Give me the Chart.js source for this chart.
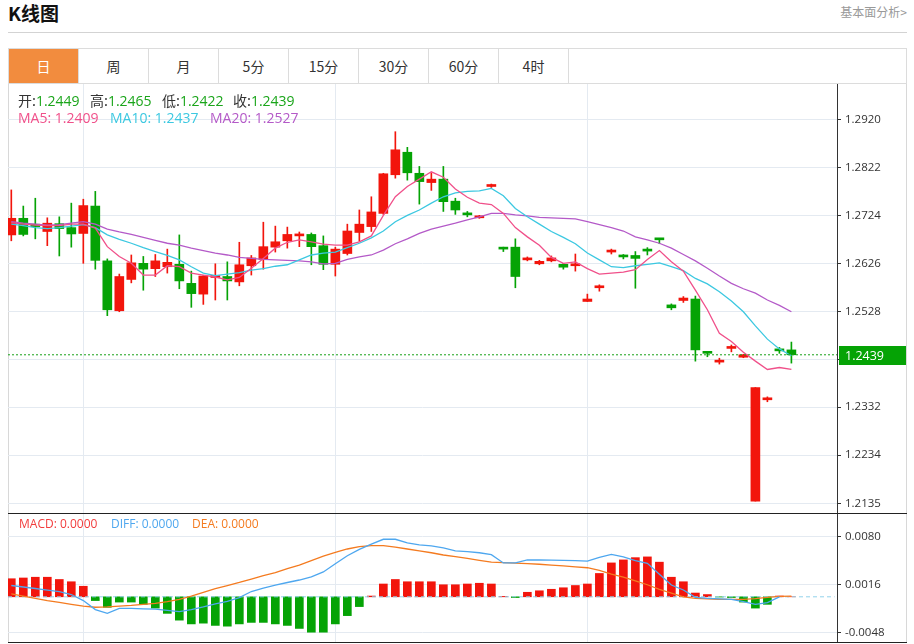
<!DOCTYPE html>
<html><head><meta charset="utf-8">
<script src="https://cdn.jsdelivr.net/npm/chart.js@4.4.0/dist/chart.umd.min.js"></script>
<style>
html,body{margin:0;padding:0;background:#fff;}
body{width:914px;height:644px;position:relative;overflow:hidden;font-family:"Open Sans","Noto Sans CJK SC",sans-serif;}
.abs{position:absolute;white-space:nowrap;}
#title{left:8px;top:0px;font-weight:bold;font-size:19px;font-family:"Noto Sans CJK SC";color:#111;line-height:26px;}
#link{right:7px;top:4px;font-size:12px;font-family:"Noto Sans CJK SC";color:#999;line-height:16px;}
#hr{left:8px;top:32px;width:899px;height:1px;background:#d3d3d3;}
#tabs{left:8px;top:48px;width:899px;height:36px;box-sizing:border-box;border:1px solid #dcdcdc;}
.tab{position:absolute;top:0;height:34px;width:70px;box-sizing:border-box;border-right:1px solid #dcdcdc;text-align:center;line-height:34px;font-size:14px;font-family:"Noto Sans CJK SC";color:#333;}
.tab.on{background:#f28c3e;color:#fff;}
#frame{left:8px;top:84px;width:899px;height:559px;box-sizing:border-box;border-left:1px solid #d8d8d8;border-right:1px solid #d8d8d8;}
canvas{position:absolute;}
.leg{font-size:14px;line-height:18px;}
.k{color:#333;font-family:"Noto Sans CJK SC","Open Sans";}
.g{color:#1aa51a;}
.mleg{font-size:12px;line-height:16px;}
.hline{position:absolute;left:8px;width:899px;height:1px;background:#222;}
</style>
</head><body>
<div id="title" class="abs">K线图</div>
<div id="link" class="abs">基本面分析&gt;</div>
<div id="hr" class="abs"></div>
<div id="tabs" class="abs">
  <div class="tab on" style="left:0">日</div>
  <div class="tab" style="left:70px">周</div>
  <div class="tab" style="left:140px">月</div>
  <div class="tab" style="left:210px">5分</div>
  <div class="tab" style="left:280px">15分</div>
  <div class="tab" style="left:350px">30分</div>
  <div class="tab" style="left:420px">60分</div>
  <div class="tab" style="left:490px">4时</div>
</div>
<div id="frame" class="abs"></div>
<canvas id="c1" width="899" height="429" style="left:8px;top:84px;"></canvas>
<canvas id="c2" width="899" height="130" style="left:8px;top:513px;"></canvas>
<div class="hline" style="top:513px;"></div>
<div class="hline" style="top:642px;"></div>

<div class="abs leg" style="left:18px;top:91px;"><span class="k">开:</span><span class="g" id="vO"></span></div>
<div class="abs leg" style="left:90px;top:91px;"><span class="k">高:</span><span class="g" id="vH"></span></div>
<div class="abs leg" style="left:162px;top:91px;"><span class="k">低:</span><span class="g" id="vL"></span></div>
<div class="abs leg" style="left:233px;top:91px;"><span class="k">收:</span><span class="g" id="vC"></span></div>
<div class="abs leg" style="left:18px;top:109px;color:#f0508a;" id="m5"></div>
<div class="abs leg" style="left:110px;top:109px;color:#3cc8e1;" id="m10"></div>
<div class="abs leg" style="left:210px;top:109px;color:#b45ac8;" id="m20"></div>
<div class="abs mleg" style="left:19px;top:516px;color:#f23c3c;">MACD: 0.0000</div>
<div class="abs mleg" style="left:111px;top:516px;color:#4ea7ef;">DIFF: 0.0000</div>
<div class="abs mleg" style="left:192px;top:516px;color:#f47b20;">DEA: 0.0000</div>

<script>
// ---- data (daily candles, oldest -> newest) ----
const opens  = [1.2684,1.2718,1.2706,1.2691,1.2707,1.2699,1.2687,1.2743,1.2631,1.2529,1.2593,1.2626,1.2615,1.2619,1.2624,1.2585,1.2563,1.2597,1.2599,1.2588,1.2621,1.2634,1.2659,1.2672,1.2682,1.2685,1.2662,1.2624,1.2646,1.2689,1.2701,1.2728,1.2807,1.2853,1.2810,1.2791,1.2798,1.2753,1.2729,1.2719,1.2783,1.2659,1.2659,1.2633,1.2625,1.2631,1.2624,1.2621,1.2548,1.2576,1.2649,1.2642,1.2642,1.2655,1.2677,1.2541,1.2550,1.2553,1.2445,1.2424,1.2452,1.2434,1.2140,1.2347,1.2449,1.2449];
const highs  = [1.2776,1.2743,1.2759,1.2719,1.2721,1.2749,1.2757,1.2773,1.2635,1.2604,1.2643,1.2640,1.2644,1.2655,1.2684,1.2610,1.2601,1.2625,1.2629,1.2669,1.2642,1.2710,1.2702,1.2700,1.2690,1.2688,1.2682,1.2659,1.2706,1.2735,1.2762,1.2810,1.2895,1.2863,1.2824,1.2811,1.2824,1.2759,1.2732,1.2724,1.2788,1.2659,1.2676,1.2639,1.2632,1.2641,1.2626,1.2645,1.2563,1.2582,1.2655,1.2644,1.2650,1.2658,1.2677,1.2543,1.2558,1.2559,1.2445,1.2432,1.2459,1.2440,1.2372,1.2353,1.2454,1.2465];
const lows   = [1.2672,1.2682,1.2676,1.2662,1.2641,1.2659,1.2626,1.2614,1.2519,1.2527,1.2586,1.2571,1.2599,1.2606,1.2574,1.2536,1.2542,1.2551,1.2551,1.2580,1.2602,1.2614,1.2649,1.2657,1.2660,1.2623,1.2613,1.2600,1.2643,1.2671,1.2691,1.2726,1.2800,1.2796,1.2747,1.2775,1.2732,1.2726,1.2721,1.2718,1.2781,1.2650,1.2576,1.2631,1.2623,1.2629,1.2614,1.2610,1.2548,1.2569,1.2645,1.2635,1.2575,1.2643,1.2666,1.2531,1.2546,1.2426,1.2435,1.2420,1.2445,1.2433,1.2140,1.2343,1.2442,1.2422];
const closes = [1.2718,1.2685,1.2701,1.2708,1.2697,1.2686,1.2744,1.2632,1.2531,1.2599,1.2627,1.2614,1.2631,1.2628,1.2590,1.2564,1.2600,1.2600,1.2590,1.2623,1.2637,1.2660,1.2670,1.2685,1.2685,1.2660,1.2624,1.2655,1.2692,1.2706,1.2731,1.2809,1.2858,1.2811,1.2793,1.2798,1.2752,1.2735,1.2725,1.2723,1.2786,1.2655,1.2599,1.2637,1.2630,1.2637,1.2618,1.2625,1.2553,1.2580,1.2651,1.2639,1.2636,1.2651,1.2674,1.2535,1.2555,1.2449,1.2442,1.2428,1.2456,1.2439,1.2372,1.2351,1.2447,1.2439];
const ma5  = [1.2709,1.2706,1.2704,1.2703,1.2703,1.2706,1.2706,1.2698,1.2660,1.2640,1.2626,1.2602,1.2602,1.2621,1.2619,1.2606,1.2602,1.2598,1.2592,1.2597,1.2616,1.2636,1.2657,1.2669,1.2674,1.2670,1.2665,1.2663,1.2663,1.2670,1.2682,1.2724,1.2762,1.2783,1.2798,1.2813,1.2802,1.2778,1.2761,1.2749,1.2746,1.2728,1.2699,1.2680,1.2663,1.2638,1.2626,1.2629,1.2615,1.2604,1.2606,1.2608,1.2613,1.2634,1.2652,1.2629,1.2610,1.2571,1.2531,1.2483,1.2466,1.2444,1.2426,1.2409,1.2413,1.2409];
const ma10 = [1.2706,1.2703,1.2699,1.2697,1.2699,1.2702,1.2705,1.2699,1.2684,1.2675,1.2667,1.2658,1.2650,1.2642,1.2633,1.2619,1.2606,1.2601,1.2604,1.2607,1.2612,1.2615,1.2620,1.2623,1.2633,1.2643,1.2647,1.2649,1.2658,1.2667,1.2678,1.2692,1.2711,1.2724,1.2735,1.2749,1.2762,1.2770,1.2773,1.2774,1.2779,1.2764,1.2738,1.2721,1.2706,1.2691,1.2679,1.2666,1.2647,1.2633,1.2619,1.2617,1.2621,1.2624,1.2627,1.2619,1.2611,1.2595,1.2584,1.2568,1.2549,1.2527,1.2498,1.2471,1.2451,1.2437];
const ma20 = [1.2711,1.2708,1.2706,1.2704,1.2705,1.2708,1.2711,1.2706,1.2696,1.2690,1.2685,1.2679,1.2673,1.2667,1.2663,1.2657,1.2652,1.2647,1.2643,1.2638,1.2636,1.2634,1.2633,1.2632,1.2631,1.2629,1.2625,1.2626,1.2634,1.2639,1.2643,1.2653,1.2666,1.2676,1.2687,1.2696,1.2702,1.2708,1.2715,1.2721,1.2728,1.2728,1.2725,1.2723,1.2720,1.2719,1.2718,1.2717,1.2711,1.2705,1.2699,1.2692,1.2680,1.2674,1.2667,1.2657,1.2644,1.2631,1.2616,1.2600,1.2585,1.2574,1.2565,1.2551,1.2540,1.2527];
const macdHist = [0.0024,0.0025,0.0026,0.0026,0.0023,0.0020,0.0014,-0.0005,-0.0014,-0.0007,-0.0007,-0.0010,-0.0015,-0.0022,-0.0031,-0.0036,-0.0035,-0.0038,-0.0039,-0.0036,-0.0034,-0.0034,-0.0036,-0.0038,-0.0042,-0.0047,-0.0047,-0.0036,-0.0025,-0.0013,0.0001,0.0017,0.0023,0.0020,0.0020,0.0020,0.0016,0.0016,0.0017,0.0018,0.0017,0.00005,-0.0001,0.0006,0.0008,0.0010,0.0012,0.0015,0.0017,0.0031,0.0045,0.0049,0.0052,0.0053,0.0046,0.0026,0.0020,0.0005,0.0003,-0.00003,-0.0001,-0.0007,-0.0015,-0.0010,0.0001,0.0000];
const diff = [0.00150,0.00130,0.00110,0.00090,0.00070,0.00030,-0.00050,-0.00170,-0.00219,-0.00153,-0.00155,-0.00160,-0.00163,-0.00180,-0.00198,-0.00170,-0.00135,-0.00095,-0.00062,-0.00010,0.00070,0.00115,0.00155,0.00190,0.00223,0.00265,0.00330,0.00440,0.00545,0.00630,0.00700,0.00764,0.00764,0.00715,0.00690,0.00675,0.00650,0.00610,0.00600,0.00585,0.00560,0.00450,0.00450,0.00489,0.00489,0.00487,0.00485,0.00480,0.00475,0.00525,0.00564,0.00530,0.00480,0.00445,0.00300,0.00157,0.00090,-0.00007,-0.00020,-0.00027,-0.00033,-0.00065,-0.00100,-0.00078,0.00000];
const dea = [0.00040,0.00010,-0.00020,-0.00050,-0.00075,-0.00100,-0.00125,-0.00139,-0.00135,-0.00125,-0.00115,-0.00100,-0.00088,-0.00065,-0.00035,0.00010,0.00060,0.00110,0.00150,0.00190,0.00235,0.00280,0.00320,0.00375,0.00422,0.00480,0.00540,0.00590,0.00635,0.00665,0.00679,0.00679,0.00660,0.00635,0.00610,0.00585,0.00555,0.00533,0.00510,0.00485,0.00460,0.00453,0.00448,0.00440,0.00432,0.00422,0.00410,0.00398,0.00386,0.00350,0.00300,0.00260,0.00210,0.00160,0.00100,0.00050,0.00000,-0.00020,-0.00028,-0.00033,-0.00033,-0.00033,-0.00025,-0.00008,0.00005,0.00010];
const priceTicks = [1.2135,1.2234,1.2332,1.2430,1.2528,1.2626,1.2724,1.2822,1.2920];
const priceTickLabels = ["1.2135","1.2234","1.2332","1.2430","1.2528","1.2626","1.2724","1.2822","1.2920"];
const macdTicks = [0.0080,0.0016,-0.0048];
const macdTickLabels = ["0.0080","0.0016","-0.0048"];
const gridDays = [6,27,48];
const lastClose = 1.2439;
const legendMA = {ma5:1.2409, ma10:1.2437, ma20:1.2527};

// ---- legend text ----
const L = opens.length - 1;
document.getElementById('vO').textContent = opens[L].toFixed(4);
document.getElementById('vH').textContent = highs[L].toFixed(4);
document.getElementById('vL').textContent = lows[L].toFixed(4);
document.getElementById('vC').textContent = closes[L].toFixed(4);
document.getElementById('m5').textContent = 'MA5: ' + legendMA.ma5.toFixed(4);
document.getElementById('m10').textContent = 'MA10: ' + legendMA.ma10.toFixed(4);
document.getElementById('m20').textContent = 'MA20: ' + legendMA.ma20.toFixed(4);

// ---- chart config ----
Chart.defaults.font.family = '"Open Sans", "Noto Sans CJK SC", sans-serif';
const X_MIN = -0.275, X_MAX = 68.8;
const RED = '#f2150c', GREEN = '#05a305';
const GRID = '#e4eaf1';
const idx = opens.map((_, i) => i);
const cColors = idx.map(i => closes[i] >= opens[i] ? RED : GREEN);
const pts = arr => arr.map((v, i) => ({x: i, y: v}));

function xAxis() {
  return {
    type: 'linear', min: X_MIN, max: X_MAX, offset: false,
    grid: {color: GRID, drawTicks: false, offset: false},
    border: {display: false},
    ticks: {display: false},
    afterBuildTicks: s => { s.ticks = gridDays.map(v => ({value: v})); },
    afterFit: s => { s.height = 0; s.paddingLeft = 0; s.paddingRight = 0; }
  };
}
function yAxis(min, max, ticks, labels) {
  return {
    type: 'linear', position: 'right', min, max, beginAtZero: false,
    grid: {color: GRID, tickLength: 4, tickColor: '#333', drawTicks: true},
    border: {display: true, color: '#333', width: 1},
    ticks: {
      color: '#333', padding: 4, font: {size: 11.5},
      callback: (v) => { const k = ticks.findIndex(t => Math.abs(t - v) < 1e-7); return k >= 0 ? labels[k] : ''; }
    },
    afterBuildTicks: s => { s.ticks = ticks.map(v => ({value: v})); },
    afterFit: s => { s.width = 70; s.paddingTop = 0; s.paddingBottom = 0; }
  };
}
const baseOpts = {
  responsive: false, maintainAspectRatio: false, animation: false, events: [],
  layout: {padding: 0},
  plugins: {legend: {display: false}, tooltip: {enabled: false}}
};

const priceTag = {
  id: 'priceTag',
  afterDraw(chart) {
    const {ctx, chartArea, scales} = chart;
    const py = scales.y.getPixelForValue(lastClose);
    ctx.save();
    ctx.fillStyle = GREEN;
    ctx.fillRect(chartArea.right + 2, Math.round(py) - 9, chart.width - chartArea.right - 3, 19);
    ctx.fillStyle = '#fff';
    ctx.font = '12.5px "Open Sans"';
    ctx.textBaseline = 'middle';
    ctx.fillText(lastClose.toFixed(4), chartArea.right + 8, Math.round(py) + 1);
    ctx.restore();
  }
};

new Chart(document.getElementById('c1'), {
  type: 'bar',
  data: {datasets: [
    {type: 'line', data: [{x: X_MIN, y: lastClose}, {x: X_MAX, y: lastClose}], borderColor: '#18a018', borderWidth: 1, borderDash: [2, 2], pointRadius: 0, order: 0},
    {type: 'line', data: pts(ma5), borderColor: '#f0508a', borderWidth: 1.3, pointRadius: 0, tension: 0, order: 1},
    {type: 'line', data: pts(ma10), borderColor: '#3cc8e1', borderWidth: 1.3, pointRadius: 0, tension: 0, order: 1},
    {type: 'line', data: pts(ma20), borderColor: '#b45ac8', borderWidth: 1.3, pointRadius: 0, tension: 0, order: 1},
    {data: idx.map(i => ({x: i, y: [opens[i], closes[i]]})), backgroundColor: cColors, barThickness: 9, minBarLength: 2, grouped: false, order: 5},
    {data: idx.map(i => ({x: i, y: [lows[i], highs[i]]})), backgroundColor: cColors, barThickness: 1, minBarLength: 1, grouped: false, order: 6}
  ]},
  options: Object.assign({}, baseOpts, {
    scales: {x: xAxis(), y: yAxis(1.21156, 1.29925, priceTicks, priceTickLabels)}
  }),
  plugins: [priceTag]
});

new Chart(document.getElementById('c2'), {
  type: 'bar',
  data: {datasets: [
    {type: 'line', data: [{x: X_MIN, y: 0}, {x: X_MAX - 0.2, y: 0}], borderColor: '#92d2ec', borderWidth: 1, borderDash: [4, 3], pointRadius: 0, order: 3},
    {type: 'line', data: pts(diff), borderColor: '#4ea7ef', borderWidth: 1.3, pointRadius: 0, tension: 0, order: 1},
    {type: 'line', data: pts(dea), borderColor: '#f47b20', borderWidth: 1.3, pointRadius: 0, tension: 0, order: 1},
    {data: pts(macdHist), backgroundColor: macdHist.map(v => v >= 0 ? RED : GREEN), barThickness: 8, grouped: false, order: 5}
  ]},
  options: Object.assign({}, baseOpts, {
    scales: {x: xAxis(), y: yAxis(-0.006135, 0.011129, macdTicks, macdTickLabels)}
  })
});
</script>
</body></html>
